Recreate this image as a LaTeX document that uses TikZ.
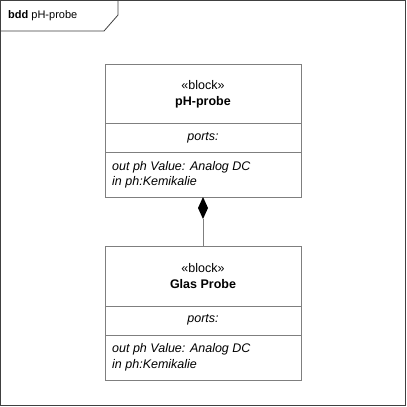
\documentclass[tikz,border=0pt]{standalone}
\usepackage{fontspec}
\setmainfont{Liberation Sans}
\usetikzlibrary{calc}
\definecolor{linegray}{HTML}{7F7F7F}
\definecolor{framegray}{HTML}{404040}
\tikzset{
  blockbox/.style={draw=linegray, line width=1pt, fill=white},
  divider/.style={draw=linegray, line width=1pt},
  txt/.style={inner sep=0pt, font=\fontsize{12.5}{14}\selectfont},
  ttxt/.style={inner sep=0pt, font=\fontsize{11}{13}\selectfont},
  itxt/.style={inner sep=0pt, font=\fontsize{12.5}{14}\selectfont\itshape, align=left},
  comp/.style={draw=linegray, line width=1pt},
}
\begin{document}
\begin{tikzpicture}[x=1pt,y=-1pt]
\useasboundingbox (0,0) rectangle (407,407);
\fill[white] (0,0) rectangle (407,407);
% frame
\draw[framegray, line width=1pt] (0.5,0.5) rectangle (405.5,405.5);
\draw[framegray, line width=0.8pt] (0.5,31) -- (104,31) -- (118,15) -- (118,0.5);
\node[ttxt, anchor=west] (title) at (8,16) {\textbf{bdd} pH-probe};

% block 1
\draw[blockbox] (105,64) rectangle (301,197);
\draw[divider] (105,123) -- (301,123);
\draw[divider] (105,152) -- (301,152);
\node[txt] (s1) at (203,85) {«block»};
\node[txt] (n1) at (203,102) {\textbf{pH-probe}};
\node[itxt] (p1) at (203,138) {ports:};
\node[itxt, anchor=west] (a1) at (112,167) {out ph Value: Analog DC};
\node[itxt, anchor=west] (c1) at (112,182) {in ph:Kemikalie};
\coordinate (b1bot) at (203,197);

% block 2
\draw[blockbox] (105,246) rectangle (301,380);
\draw[divider] (105,306) -- (301,306);
\draw[divider] (105,335) -- (301,335);
\node[txt] (s2) at (203,268) {«block»};
\node[txt] (n2) at (203,284) {\textbf{Glas Probe}};
\node[itxt] (p2) at (203,320) {ports:};
\node[itxt, anchor=west] (a2) at (112,349) {out ph Value: Analog DC};
\node[itxt, anchor=west] (c2) at (112,365) {in ph:Kemikalie};
\coordinate (b2top) at (203,246);

% composition
\coordinate (dbot) at (203,219);
\draw[comp] (dbot) -- (b2top);
\fill[black] (b1bot) -- (208,208) -- (dbot) -- (198,208) -- cycle;
\end{tikzpicture}
\end{document}
